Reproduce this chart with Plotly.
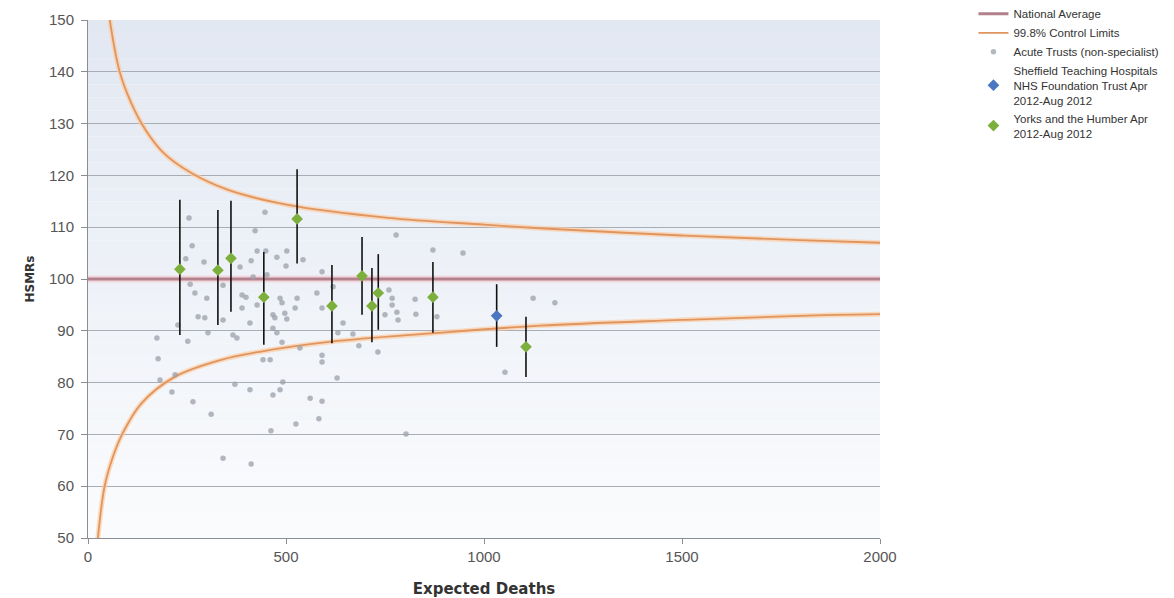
import plotly.graph_objects as go

# ---------------- data ----------------
avg_x = [0, 2000]
avg_y = [100, 100]

upper_E = [55, 80, 109, 145, 190, 260, 354, 505, 758, 1000, 1141, 1500, 1798, 2000]
upper_H = [150, 140, 134, 128.8, 124.4, 120.5, 117.2, 114.3, 111.8, 110.5, 109.8, 108.4, 107.5, 107.0]
lower_E = [25, 42, 63, 88, 135, 219, 337, 437, 614, 866, 1141, 1500, 1798, 2000]
lower_H = [50, 60, 65.7, 70.3, 76, 81.1, 84.4, 86, 87.9, 89.5, 91.0, 92.1, 92.9, 93.2]

acute_E = [255, 422, 447, 263, 247, 293, 427, 449, 477, 502, 500, 543, 591, 412, 384, 417, 452,
           258, 270, 300, 341, 389, 399, 427, 485, 490, 528, 578, 591, 523, 389, 278, 295, 341,
           409, 467, 472, 497, 502, 227, 467, 477, 174, 252, 303, 366, 376, 535, 490, 442, 460,
           591, 591, 177, 182, 212, 371, 409, 467, 485, 492, 265, 561, 591, 629, 311, 525, 583,
           462, 341, 412, 220, 778, 871, 947, 619, 760, 768, 768, 826, 780, 750, 783, 828, 881,
           1124, 644, 631, 669, 684, 732, 1053, 803, 1179]
acute_H = [111.8, 109.3, 112.9, 106.4, 103.9, 103.3, 105.4, 105.4, 104.2, 105.4, 102.5, 103.7,
           101.4, 103.5, 102.3, 100.4, 100.8, 99.0, 97.3, 96.3, 98.8, 96.9, 96.5, 95.0, 96.3, 95.4,
           96.3, 97.3, 94.4, 94.4, 94.4, 92.7, 92.5, 92.1, 91.5, 93.1, 92.5, 93.4, 92.3, 91.1, 90.5,
           89.6, 88.6, 88.0, 89.6, 89.2, 88.6, 86.7, 87.8, 84.4, 84.4, 85.3, 84.0, 84.6, 80.5, 78.2,
           79.7, 78.6, 77.6, 78.6, 80.1, 76.3, 77.0, 76.4, 80.9, 73.9, 72.0, 73.0, 70.7, 65.4, 64.3,
           81.5, 108.5, 105.6, 105.0, 98.5, 97.9, 96.3, 95.0, 96.1, 93.6, 93.1, 92.1, 93.2, 92.7,
           96.3, 91.5, 89.6, 89.4, 87.1, 85.9, 82.0, 70.1, 95.4]

sheff_E = [1032]
sheff_H = [92.9]
sheff_lo = [86.9]
sheff_hi = [99.0]

yorks_E = [232, 328, 361, 528, 444, 616, 692, 717, 733, 871, 1106]
yorks_H = [101.9, 101.7, 104.0, 111.6, 96.5, 94.8, 100.6, 94.8, 97.3, 96.5, 86.9]
yorks_lo = [89.2, 91.1, 93.7, 103.0, 87.3, 87.6, 93.1, 87.8, 90.2, 89.6, 81.1]
yorks_hi = [115.3, 113.3, 115.1, 121.2, 105.2, 102.7, 108.1, 102.1, 104.8, 103.3, 92.7]

legend_names = ["National Average", "99.8% Control Limits", "Acute Trusts (non-specialist)",
                "Sheffield Teaching Hospitals<br>NHS Foundation Trust Apr<br>2012-Aug 2012",
                "Yorks and the Humber Apr<br>2012-Aug 2012"]

# ---------------- figure ----------------
fig = go.Figure()

# halo under lines
fig.add_trace(go.Scatter(x=avg_x, y=avg_y, mode="lines", line=dict(color="rgba(245,200,205,0.6)", width=7),
                         showlegend=False, hoverinfo="skip"))
for ex, hy in [(upper_E, upper_H), (lower_E, lower_H)]:
    fig.add_trace(go.Scatter(x=ex, y=hy, mode="lines",
                             line=dict(color="rgba(252,205,165,0.7)", width=5, shape="spline", smoothing=1.0),
                             showlegend=False, hoverinfo="skip"))

fig.add_trace(go.Scatter(x=avg_x, y=avg_y, mode="lines", name=legend_names[0],
                         line=dict(color="#b3808d", width=3)))
fig.add_trace(go.Scatter(x=upper_E, y=upper_H, mode="lines", name=legend_names[1], legendgroup="cl",
                         line=dict(color="#e0955f", width=1.8, shape="spline", smoothing=1.0)))
fig.add_trace(go.Scatter(x=lower_E, y=lower_H, mode="lines", name=legend_names[1], legendgroup="cl",
                         showlegend=False,
                         line=dict(color="#e0955f", width=1.8, shape="spline", smoothing=1.0)))

fig.add_trace(go.Scatter(x=acute_E, y=acute_H, mode="markers", name=legend_names[2],
                         marker=dict(color="rgba(155,160,170,0.75)", size=5.5)))

fig.add_trace(go.Scatter(
    x=sheff_E, y=sheff_H, mode="markers", name=legend_names[3],
    marker=dict(symbol="diamond", color="#4a77c2", size=9),
    error_y=dict(type="data", symmetric=False,
                 array=[h - v for h, v in zip(sheff_hi, sheff_H)],
                 arrayminus=[v - l for v, l in zip(sheff_H, sheff_lo)],
                 color="#111111", thickness=1.6, width=0)))

fig.add_trace(go.Scatter(
    x=yorks_E, y=yorks_H, mode="markers", name=legend_names[4],
    marker=dict(symbol="diamond", color="#7caf3c", size=9),
    error_y=dict(type="data", symmetric=False,
                 array=[h - v for h, v in zip(yorks_hi, yorks_H)],
                 arrayminus=[v - l for v, l in zip(yorks_H, yorks_lo)],
                 color="#111111", thickness=1.6, width=0)))

# gradient plot background (styling only)
n = 40
top = (226, 232, 242)
bot = (250, 251, 253)
shapes = []
for i in range(n):
    t = i / (n - 1)
    c = tuple(int(round(top[k] + (bot[k] - top[k]) * t)) for k in range(3))
    shapes.append(dict(type="rect", xref="paper", yref="paper", x0=0, x1=1,
                       y1=1 - i / n, y0=1 - (i + 1) / n, line=dict(width=0),
                       fillcolor="rgb(%d,%d,%d)" % c, layer="below"))

fig.update_layout(
    width=1166, height=590,
    margin=dict(l=80, r=294, t=12, b=60, autoexpand=False),
    paper_bgcolor="white", plot_bgcolor="white",
    shapes=shapes,
    font=dict(family="Liberation Sans, Arial, sans-serif", color="#444"),
    legend=dict(x=1.118, y=1.04, xanchor="left", yanchor="top",
                font=dict(size=11.5, color="#333"), tracegroupgap=0,
                bgcolor="rgba(0,0,0,0)", itemwidth=30),
    xaxis=dict(range=[0, 2000], tickvals=[0, 500, 1000, 1500, 2000], showgrid=False,
               showline=True, linecolor="#8a8d92", linewidth=1, ticks="outside", ticklen=5,
               tickcolor="#8a8d92", tickfont=dict(size=15, color="#555"), zeroline=False,
               automargin=False,
               title=dict(text="<b>Expected Deaths</b>", standoff=19,
                          font=dict(family="DejaVu Sans", size=15, color="#333"))),
    yaxis=dict(range=[50, 150], dtick=10, showgrid=True, gridcolor="#a9adb4", gridwidth=1,
               showline=True, linecolor="#8a8d92", linewidth=1, ticks="outside", ticklen=6,
               tickcolor="#8a8d92", tickfont=dict(size=15, color="#555"), zeroline=False,
               ticklabelstandoff=4, automargin=False,
               title=dict(text="<b>HSMRs</b>", standoff=11,
                          font=dict(family="DejaVu Sans", size=12, color="#333"))),
)

fig.write_html("out.html")
